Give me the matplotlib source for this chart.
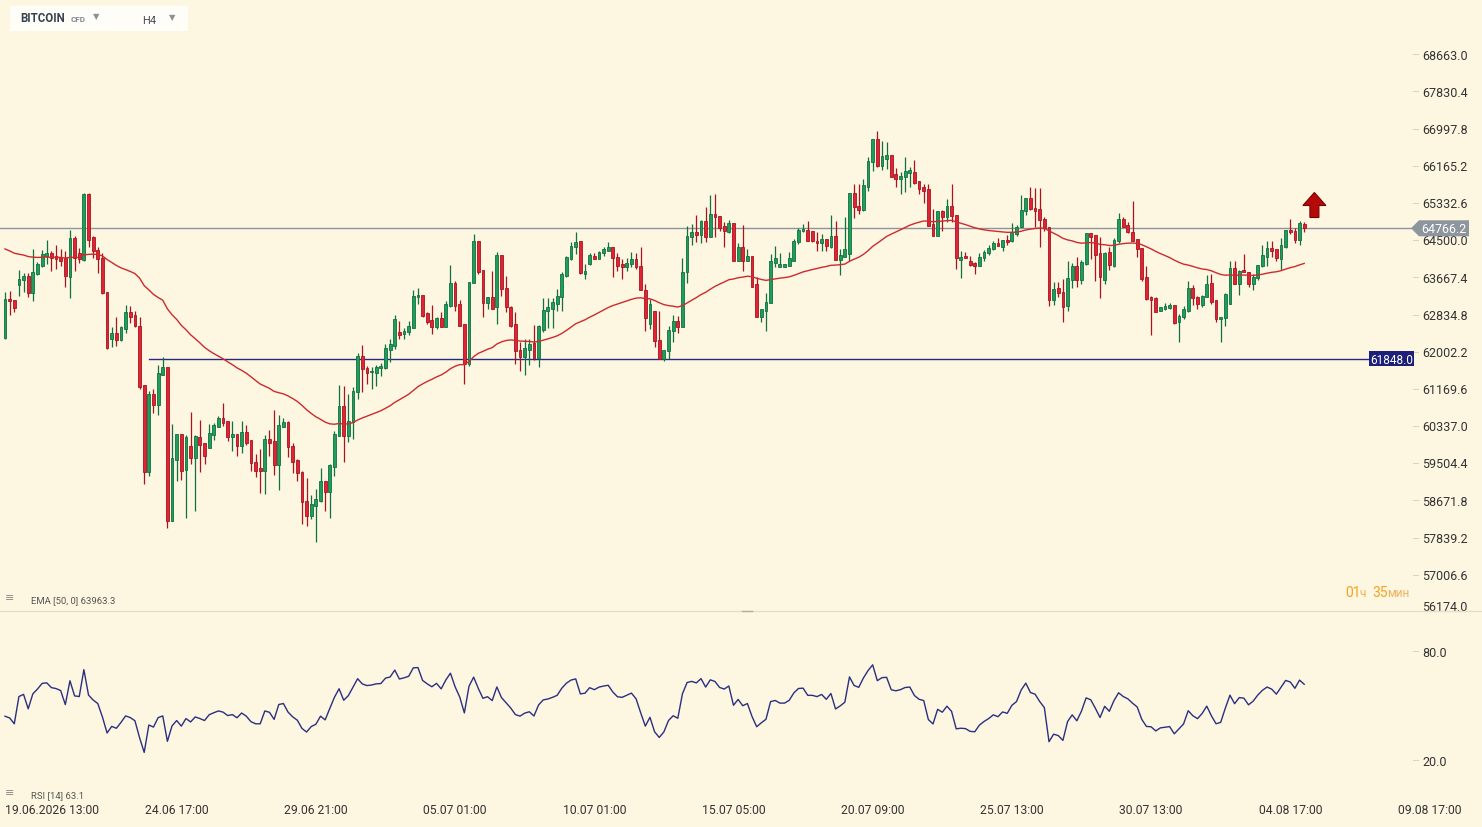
import numpy as np
import pandas as pd
import matplotlib
matplotlib.use("Agg")
import matplotlib.pyplot as plt
from matplotlib import transforms
from matplotlib.lines import Line2D
from matplotlib.patches import Polygon, Rectangle

plt.rcParams['font.family'] = ['Roboto', 'DejaVu Sans']

# BITCOIN CFD, H4 candles
opens = [
    62308, 63182, 63160, 63496, 63608, 63697, 63316, 63742, 63921, 64145,
    64212, 64145, 64123, 64100, 63675, 64548, 64212, 64056, 65534, 64571,
    64280, 64100, 63339, 62286, 62420, 62264, 62510, 62891, 62824, 62577,
    61256, 59307, 61054, 60808, 61480, 61659, 58209, 59576, 60158, 59352,
    59889, 59620, 60091, 59956, 59844, 60136, 60315, 60516, 60449, 60091,
    60158, 59889, 60203, 60024, 59531, 59396, 59329, 60046, 60001, 59463,
    60315, 60427, 59889, 59576, 59307, 58657, 58321, 58545, 58657, 59105,
    58859, 59418, 60113, 60786, 60113, 60427, 61099, 61905, 61636, 61547,
    61524, 61636, 61636, 62040, 62129, 62443, 62398, 62443, 62532, 63227,
    63272, 62868, 62712, 62555, 62756, 62555, 63026, 63541, 63070, 62622,
    61726, 63541, 64481, 63832, 63092, 63227, 63003, 64168, 63428, 63003,
    62622, 62040, 61883, 62040, 62196, 61860, 62488, 62913, 62958, 63070,
    63227, 63697, 64078, 64347, 64481, 63742, 63966, 64145, 64078, 64212,
    64257, 64347, 64123, 63966, 63899, 63966, 64078, 63921, 63384, 62622,
    62913, 62264, 61838, 62017, 62465, 62689, 62555, 63787, 64571, 64683,
    64616, 64929, 64571, 65086, 65041, 64817, 64683, 64884, 64033, 64347,
    64033, 64145, 63518, 62779, 62913, 63092, 63988, 63899, 63899, 63921,
    64033, 64459, 64705, 64728, 64705, 64481, 64436, 64526, 64347, 64593,
    64056, 64123, 64190, 65556, 65265, 65176, 65691, 66251, 66766, 66161,
    66318, 66408, 65982, 65870, 65915, 66004, 66027, 65825, 65691, 65646,
    64862, 64593, 65153, 65019, 65265, 65064, 64056, 64145, 64033, 63988,
    63921, 64100, 64212, 64302, 64436, 64347, 64504, 64481, 64638, 64795,
    65153, 65444, 65220, 65198, 64974, 64795, 63160, 63428, 63339, 63026,
    63608, 63921, 63608, 63966, 64660, 64616, 64212, 63608, 64235, 63921,
    64481, 64974, 64840, 64683, 64526, 64324, 63675, 63227, 63204, 62913,
    62958, 62980, 63048, 62667, 62779, 62913, 63428, 63227, 63048, 63227,
    63541, 63160, 62734, 62756, 63070, 63876, 63518, 63832, 63787, 63518,
    63652, 63921, 64123, 64324, 64302, 64078, 64347, 64728, 64705, 64504,
    64862,
]
highs = [
    63339, 63361, 63160, 63832, 63764, 63764, 64302, 64011, 64280, 64504,
    64257, 64392, 64302, 64257, 64728, 64593, 64324, 65556, 65556, 64593,
    64347, 64212, 63339, 62555, 62779, 62577, 63048, 63026, 62913, 62779,
    61256, 61121, 61166, 61704, 61883, 61659, 60382, 60158, 60158, 60136,
    60651, 60136, 60472, 59956, 60382, 60404, 60561, 60852, 60449, 60449,
    60158, 60449, 60360, 60024, 59710, 59822, 60136, 60248, 60696, 60584,
    60516, 60449, 59956, 59598, 59329, 59172, 58792, 58926, 59396, 59105,
    59486, 60225, 61256, 61233, 61054, 61211, 61972, 62151, 61681, 61659,
    61704, 61748, 62174, 62286, 62824, 62689, 62532, 62689, 63384, 63428,
    63272, 62891, 63048, 62779, 62891, 63137, 63944, 63586, 63160, 62622,
    63563, 64638, 64481, 63832, 63227, 63809, 64235, 64168, 63697, 63026,
    62891, 62219, 62286, 62286, 62600, 62600, 63204, 63204, 63204, 63406,
    63787, 64145, 64459, 64683, 64481, 63966, 64212, 64212, 64257, 64347,
    64459, 64347, 64212, 64078, 64100, 64235, 64212, 64347, 63518, 63182,
    62913, 62913, 62040, 62577, 62824, 62801, 64100, 64817, 64862, 65064,
    64952, 65243, 65512, 65534, 65041, 64907, 64952, 64884, 64436, 64840,
    64302, 64145, 63675, 62958, 63316, 64190, 64369, 64212, 63966, 64235,
    64526, 64772, 64862, 64929, 64705, 64683, 64638, 64526, 65064, 64929,
    64302, 65019, 65556, 65758, 65758, 65870, 66363, 66766, 66945, 66721,
    66699, 66408, 66116, 66027, 66363, 66139, 66296, 65825, 65758, 65758,
    65198, 65153, 65176, 65422, 65758, 65064, 64257, 64235, 64145, 64011,
    64212, 64280, 64392, 64481, 64548, 64504, 64616, 64884, 64840, 65512,
    65444, 65691, 65668, 65668, 65019, 64795, 63563, 63563, 63630, 64033,
    63988, 64123, 64056, 64660, 64660, 64616, 64571, 64235, 64347, 64548,
    65108, 65019, 64907, 65377, 64526, 64324, 63921, 63249, 63227, 63003,
    63092, 63092, 63048, 62846, 63026, 63586, 63496, 63249, 63272, 63720,
    63742, 63160, 62779, 63316, 64033, 64033, 63832, 64190, 63787, 63742,
    63944, 64392, 64481, 64481, 64302, 64548, 64728, 64974, 64772, 64929,
    64907,
]
lows = [
    62286, 62824, 62891, 63249, 63339, 63227, 63137, 63720, 63899, 63966,
    63809, 63854, 63921, 63451, 63204, 63809, 63988, 64033, 64347, 64100,
    63764, 63294, 62062, 62107, 62129, 62241, 62420, 62644, 62555, 61166,
    59038, 59217, 60628, 60584, 61480, 58052, 58209, 59105, 59128, 58276,
    59486, 58433, 59307, 59486, 59844, 60024, 60315, 60337, 60001, 59777,
    59665, 59732, 59912, 59329, 59195, 58836, 58814, 59665, 59240, 58904,
    60315, 59643, 59284, 59105, 58142, 58097, 58254, 57739, 58635, 58433,
    58276, 59217, 60113, 59531, 59979, 60046, 60942, 61099, 61278, 61166,
    61233, 61457, 61614, 61771, 62062, 62286, 62286, 62376, 62532, 63070,
    62779, 62622, 62398, 62510, 62555, 62555, 63003, 62913, 62577, 61278,
    61681, 63541, 63742, 62779, 62958, 62958, 62622, 63249, 62891, 62555,
    61726, 61569, 61480, 61704, 61816, 61659, 62443, 62532, 62532, 62913,
    62913, 63675, 64056, 64190, 63742, 63630, 63944, 64078, 64078, 64145,
    64257, 63675, 63809, 63630, 63809, 63899, 63854, 63384, 62465, 62510,
    62107, 61838, 61793, 61838, 62219, 62420, 62555, 63541, 64392, 64459,
    64437, 64459, 64571, 64571, 64705, 64347, 64660, 64033, 64033, 63809,
    64033, 63451, 62779, 62667, 62465, 63092, 63899, 63899, 63899, 63921,
    64033, 64414, 64683, 64481, 64459, 64257, 64257, 64257, 64324, 64056,
    63720, 64123, 64033, 64996, 65086, 65153, 65601, 66049, 66139, 66072,
    66094, 65915, 65691, 65534, 65579, 65691, 65758, 65534, 65332, 64817,
    64593, 64593, 64705, 64907, 64907, 63854, 63652, 64100, 63921, 63742,
    63921, 64033, 64168, 64280, 64369, 64257, 64392, 64459, 64593, 64795,
    65064, 65176, 64795, 64347, 64705, 63026, 63048, 63227, 62667, 62913,
    63428, 63451, 63518, 63944, 64078, 63586, 63204, 63518, 63832, 63899,
    64436, 64795, 64660, 64481, 64123, 63586, 63160, 62376, 62891, 62913,
    62936, 62958, 62622, 62219, 62734, 62891, 63048, 62958, 63003, 63227,
    63070, 62667, 62219, 62577, 63070, 63518, 63272, 63787, 63451, 63384,
    63608, 63899, 63921, 64123, 64033, 63832, 64324, 64638, 64436, 64392,
    64683,
]
closes = [
    63182, 63137, 62980, 63630, 63697, 63316, 63787, 63966, 64190, 64212,
    64100, 64078, 64033, 63697, 64548, 64100, 64078, 65534, 64504, 64257,
    64078, 63316, 62084, 62420, 62264, 62555, 62891, 62779, 62577, 61211,
    59307, 61054, 60808, 61524, 61659, 58209, 59620, 60158, 59329, 60091,
    59620, 60113, 59912, 59665, 60180, 60360, 60516, 60404, 60091, 60158,
    59889, 60203, 59956, 59508, 59329, 59329, 60046, 59956, 59463, 60360,
    60427, 59867, 59531, 59284, 58635, 58321, 58590, 58702, 59105, 58859,
    59463, 60158, 60786, 60113, 60449, 61121, 61905, 61614, 61524, 61569,
    61659, 61681, 62084, 62174, 62734, 62376, 62465, 62577, 63249, 63272,
    62801, 62667, 62555, 62756, 62555, 63070, 63541, 63026, 62577, 61726,
    63563, 64481, 63787, 63092, 63227, 62958, 64168, 63406, 63003, 62577,
    62017, 61883, 62084, 62174, 61860, 62577, 62936, 63003, 63115, 63249,
    63742, 64123, 64369, 64459, 63764, 63809, 64168, 64078, 64235, 64302,
    64347, 64100, 63921, 63899, 63988, 64078, 63899, 63384, 62756, 63070,
    62241, 61838, 62040, 62488, 62689, 62555, 63787, 64593, 64683, 64616,
    64929, 64571, 65086, 65019, 64772, 64705, 64884, 64033, 64347, 64033,
    64145, 63451, 62779, 62958, 63115, 64033, 64100, 63966, 63966, 64100,
    64481, 64728, 64750, 64481, 64481, 64436, 64526, 64369, 64593, 64056,
    64168, 64302, 65556, 65243, 65176, 65736, 66274, 66766, 66161, 66385,
    66408, 65915, 65870, 65937, 66049, 66072, 65780, 65646, 65601, 64817,
    64593, 65153, 65019, 65265, 65041, 64100, 64123, 64100, 63944, 63921,
    64123, 64235, 64324, 64436, 64369, 64504, 64459, 64683, 64795, 65176,
    65444, 65198, 65153, 64952, 64772, 63160, 63406, 63316, 63003, 63652,
    63921, 63608, 64011, 64660, 64571, 64168, 63675, 64212, 63944, 64504,
    64974, 64795, 64683, 64481, 64302, 63630, 63182, 63160, 62891, 63003,
    63026, 63048, 62644, 62801, 62958, 63428, 63204, 63070, 63249, 63518,
    63115, 62734, 62779, 63294, 63876, 63518, 63809, 63787, 63518, 63675,
    63944, 64168, 64324, 64257, 64100, 64392, 64728, 64683, 64504, 64884,
    64766.2,
]

price_ticks = [68663.0, 67830.4, 66997.8, 66165.2, 65332.6, 64500.0, 63667.4, 62834.8,
               62002.2, 61169.6, 60337.0, 59504.4, 58671.8, 57839.2, 57006.6, 56174.0]
date_labels = ["19.06.2026 13:00", "24.06 17:00", "29.06 21:00", "05.07 01:00", "10.07 01:00",
               "15.07 05:00", "20.07 09:00", "25.07 13:00", "30.07 13:00", "04.08 17:00", "09.08 17:00"]
date_pos = [0, 37, 67, 97, 127, 157, 187, 217, 247, 277, 307]
rsi_ticks = [80.0, 20.0]

last_price = 64766.2
level_price = 61848.0
level_start = 31
ema_period = 50
ema_seed = 64350
rsi_period = 14
rsi_seed_gain, rsi_seed_loss = 75, 95

W, H = 1482, 828
BG = '#fdf6e1'
X0, STEP = 5.0, 4.64          # pixel of first bar, pixels per bar
P_TOP, P_BOT = 69902, 56216   # price range of the upper panel (0..611 px)
PPX = (P_TOP - P_BOT) / 611


def bx(px):
    return (px - X0) / STEP


o, h, l, c = (np.array(a, dtype=float) for a in (opens, highs, lows, closes))
n = len(c)
idx = np.arange(n)

ema = pd.Series(np.r_[ema_seed, c]).ewm(span=ema_period, adjust=False).mean().values[1:]

d = np.diff(c, prepend=c[0])
ag, al = rsi_seed_gain, rsi_seed_loss
rsi = []
for x in d:
    ag = (ag * (rsi_period - 1) + max(x, 0)) / rsi_period
    al = (al * (rsi_period - 1) + max(-x, 0)) / rsi_period
    rsi.append(100 - 100 / (1 + ag / al))

fig = plt.figure(figsize=(W / 100, H / 100), dpi=100, facecolor=BG)

# ---- price panel
ax = fig.add_axes([0, 1 - 611 / H, 1, 611 / H])
ax.set_xlim(bx(0), bx(W))
ax.set_ylim(P_BOT, P_TOP)
ax.axis('off')

up = c >= o
lo = np.minimum(o, c)
ht = np.maximum(np.abs(c - o), 1.2 * PPX)
for mask, face, edge in ((up, '#1f9d5d', '#117040'), (~up, '#e02433', '#a8131f')):
    ax.vlines(idx[mask], l[mask], h[mask], color=edge, lw=0.9, zorder=2)
    ax.bar(idx[mask], ht[mask], bottom=lo[mask], width=0.6, color=face,
           edgecolor=edge, linewidth=0.6, zorder=3)

ax.plot(idx, ema, color='#cc2a2f', lw=1.0, zorder=4)

ax.plot([bx(0), bx(1411)], [last_price] * 2, color='#8d959c', lw=1, zorder=1)
ax.plot([level_start, bx(1369)], [level_price] * 2, color='#262a80', lw=1, zorder=1)

for i, v in enumerate(price_ticks):
    ax.text(bx(1422), v - 0.8 * PPX, f'{v:.1f}', fontsize=9, color='#333333', ha='left',
            va='bottom' if i == len(price_ticks) - 1 else 'center')
    ax.plot([bx(1413), bx(1418)], [v, v], color='#dcd5c2', lw=0.8)

hh = 8 * PPX
ax.add_patch(Polygon([(bx(1411), last_price), (bx(1419), last_price + hh), (bx(1469), last_price + hh),
                      (bx(1469), last_price - hh), (bx(1419), last_price - hh)],
                     closed=True, fc='#8d969d', ec='none', zorder=6))
ax.text(bx(1444), last_price - 0.5 * PPX, f'{last_price:.1f}', color='white', fontsize=9,
        ha='center', va='center', zorder=7)

ax.add_patch(Rectangle((bx(1369), level_price - 7.5 * PPX), bx(1414) - bx(1369), 15 * PPX,
                       fc='#1c2079', ec='none', zorder=6))
ax.text(bx(1391.5), level_price - 0.5 * PPX, f'{level_price:.1f}', color='white', fontsize=8.5,
        ha='center', va='center', zorder=7)

# signal arrow above the last bar
shape = [(0, 12.5), (11.5, -0.5), (4.5, -0.5), (4.5, -12.5), (-4.5, -12.5), (-4.5, -0.5), (-11.5, -0.5)]
ax_x = n - 1 + 2.2
ax_y = h[-1] + 17 * PPX
ax.add_patch(Polygon([(ax_x + dx / STEP, ax_y + dy * PPX) for dx, dy in shape], closed=True,
                     fc='#b50a0a', ec='#7a0000', lw=0.8, zorder=6))

# ---- RSI panel
ax2 = fig.add_axes([0, 1 - 790 / H, 1, 177 / H])
ax2.set_xlim(bx(0), bx(W))
ax2.set_ylim(4.04, 101.5)
ax2.axis('off')
ax2.plot(idx, rsi, color='#2b2f80', lw=1.0)
for v in rsi_ticks:
    ax2.text(bx(1422), v - 0.6, f'{v:.1f}', fontsize=9, color='#333333', ha='left', va='center')
    ax2.plot([bx(1413), bx(1418)], [v, v], color='#dcd5c2', lw=0.8)

tr = transforms.blended_transform_factory(ax2.transData, fig.transFigure)
for i, (pos, lab) in enumerate(zip(date_pos, date_labels)):
    ax2.text(pos, 1 - 811 / H, lab, transform=tr, ha='left' if i == 0 else 'center',
             va='center', fontsize=8.7, color='#333333', clip_on=False)

# ---- separators and labels
fig.add_artist(Line2D([0, 1], [1 - 611.5 / H] * 2, color='#e6ddc6', lw=1))
fig.add_artist(Line2D([742 / W, 752 / W], [1 - 611.5 / H] * 2, color='#b3aea3', lw=1))

fig.text(5 / W, 1 - 598 / H, '≡', fontsize=8, color='#8a8a8a', va='center', family='DejaVu Sans')
fig.text(31 / W, 1 - 601 / H, 'EMA [50, 0] 63963.3', fontsize=6.8, color='#555555', va='center')
fig.text(5 / W, 1 - 793 / H, '≡', fontsize=8, color='#8a8a8a', va='center', family='DejaVu Sans')
fig.text(31 / W, 1 - 796 / H, 'RSI [14] 63.1', fontsize=6.8, color='#555555', va='center')

orange = '#f5a21c'
fig.text(1345 / W, 1 - 593 / H, '01', fontsize=10, color=orange, va='center')
fig.text(1359 / W, 1 - 594 / H, 'ч', fontsize=8.5, color='#efb25a', va='center')
fig.text(1372 / W, 1 - 593 / H, '35', fontsize=10, color=orange, va='center')
fig.text(1387 / W, 1 - 594 / H, 'мин', fontsize=8.5, color='#efb25a', va='center')

# ---- header box
fig.add_artist(Rectangle((10 / W, 1 - 32 / H), 178 / W, 25 / H, transform=fig.transFigure,
                         fc='#fffdf8', ec='none'))
fig.text(20.5 / W, 1 - 19 / H, 'BITCOIN', fontsize=8.3, fontweight='bold', color='#37424d', va='center')
fig.text(70.5 / W, 1 - 19.5 / H, 'CFD', fontsize=5.8, fontweight='bold', color='#80878e', va='center')
fig.text(96.5 / W, 1 - 16.5 / H, '▼', fontsize=6, color='#8b9096', ha='center', va='center',
         family='DejaVu Sans')
fig.text(142.5 / W, 1 - 20.5 / H, 'H4', fontsize=8, color='#444c55', va='center')
fig.text(172.5 / W, 1 - 18 / H, '▼', fontsize=6, color='#8b9096', ha='center', va='center',
         family='DejaVu Sans')

fig.savefig('out.png', dpi=100, facecolor=BG)
